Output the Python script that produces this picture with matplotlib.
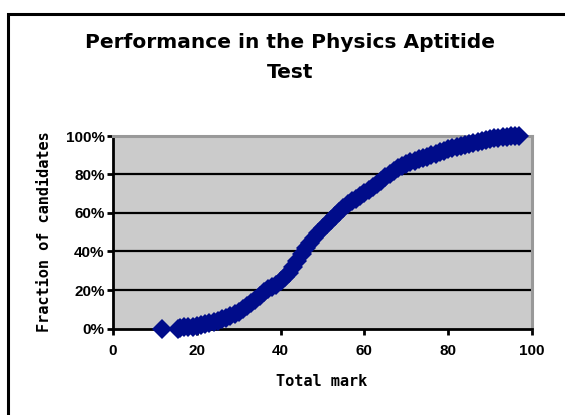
import matplotlib
matplotlib.use("Agg")
import matplotlib.pyplot as plt
from matplotlib.patches import Rectangle
from matplotlib.ticker import FuncFormatter

# total mark vs cumulative fraction of candidates (%)
marks = [11.7, 15.5, 16, 17, 18, 19, 20, 21, 22, 23, 24, 25, 26, 27, 28, 29,
         30, 31, 32, 33, 34, 35, 36, 37, 38, 39, 40, 41, 42, 43, 44, 45, 46,
         47, 48, 49, 50, 51, 52, 53, 54, 55, 56, 57, 58, 59, 60, 61, 62, 63,
         64, 65, 66, 67, 68, 69, 70, 71, 72, 73, 74, 75, 76, 77, 78, 79, 80,
         81, 82, 83, 84, 85, 86, 87, 88, 89, 90, 91, 92, 93, 94, 95, 96, 97]
fraction = [0, 0, 0.3, 0.6, 0.8, 1.0, 1.4, 1.8, 2.3, 2.8, 3.4, 4.0, 4.8, 5.6,
            6.5, 7.5, 8.6, 10.0, 11.5, 13.0, 14.8, 16.8, 19.0, 20.5, 21.5,
            22.8, 24.5, 26.5, 29.0, 32.0, 35.0, 38.5, 41.8, 44.5, 47.0, 49.5,
            52.0, 54.5, 56.5, 58.5, 60.5, 62.5, 64.5, 66.0, 67.5, 69.0, 70.5,
            72.0, 73.5, 75.0, 76.8, 78.5, 80.2, 81.8, 83.3, 84.5, 85.5, 86.3,
            87.0, 87.8, 88.5, 89.2, 90.0, 90.8, 91.5, 92.3, 93.0, 93.6, 94.2,
            94.8, 95.4, 96.0, 96.5, 97.0, 97.5, 98.0, 98.4, 98.8, 99.1, 99.4,
            99.6, 99.8, 99.9, 100.0]
x_ticks = [0, 20, 40, 60, 80, 100]
y_ticks = [0, 20, 40, 60, 80, 100]

fig = plt.figure(figsize=(5.65, 4.15), dpi=100)
W, H = 565, 415

# chart frame (runs off the right/bottom edge like the original)
fig.patches.append(Rectangle((8 / W, -0.1), 1.2, (H - 14) / H + 0.1,
                             transform=fig.transFigure, fill=False,
                             edgecolor="black", linewidth=2.2, clip_on=False))

ax = fig.add_axes([113 / W, (H - 328.5) / H, (532 - 113) / W, (328.5 - 136) / H])
ax.set_facecolor("#CBCBCB")

# the first point stands alone, the rest form a solid band
ax.plot(marks[1:], fraction[1:], linestyle="-", linewidth=8,
        color="#000C8A", solid_capstyle="round", zorder=3)
ax.plot(marks, fraction, linestyle="none", marker="D", markersize=10,
        color="#000C8A", markeredgewidth=0, clip_on=False, zorder=3)

ax.set_xlim(0, 100)
ax.set_ylim(0, 100)
ax.set_xticks(x_ticks)
ax.set_yticks(y_ticks)
ax.yaxis.set_major_formatter(FuncFormatter(lambda v, p: f"{int(v)}%"))
for y in y_ticks[1:-1]:
    ax.axhline(y, color="black", linewidth=1.6, zorder=1)

for side in ["top", "right"]:
    ax.spines[side].set_color("#999999")
    ax.spines[side].set_linewidth(2.2)
for side in ["left", "bottom"]:
    ax.spines[side].set_color("black")
    ax.spines[side].set_linewidth(2)

ax.tick_params(axis="both", direction="out", length=4, width=2, color="black",
               labelsize=11)
ax.tick_params(axis="y", pad=2)
ax.tick_params(axis="x", pad=7)
for lbl in ax.get_xticklabels() + ax.get_yticklabels():
    lbl.set_fontfamily("Liberation Sans")
    lbl.set_fontweight("bold")

fig.text(290 / W, 1 - 42 / H, "Performance in the Physics Aptitide",
         ha="center", va="center", fontsize=14.5, fontweight="bold",
         family="DejaVu Sans")
fig.text(290 / W, 1 - 72 / H, "Test", ha="center", va="center", fontsize=14.5,
         fontweight="bold", family="DejaVu Sans")

fig.text(45 / W, 1 - 232 / H, "Fraction of candidates", rotation=90,
         ha="center", va="center", fontsize=11, fontweight="bold",
         family="DejaVu Sans Mono")
fig.text(322 / W, 1 - 381 / H, "Total mark", ha="center", va="center",
         fontsize=11, fontweight="bold", family="DejaVu Sans Mono")

fig.savefig("out.png", dpi=100)
